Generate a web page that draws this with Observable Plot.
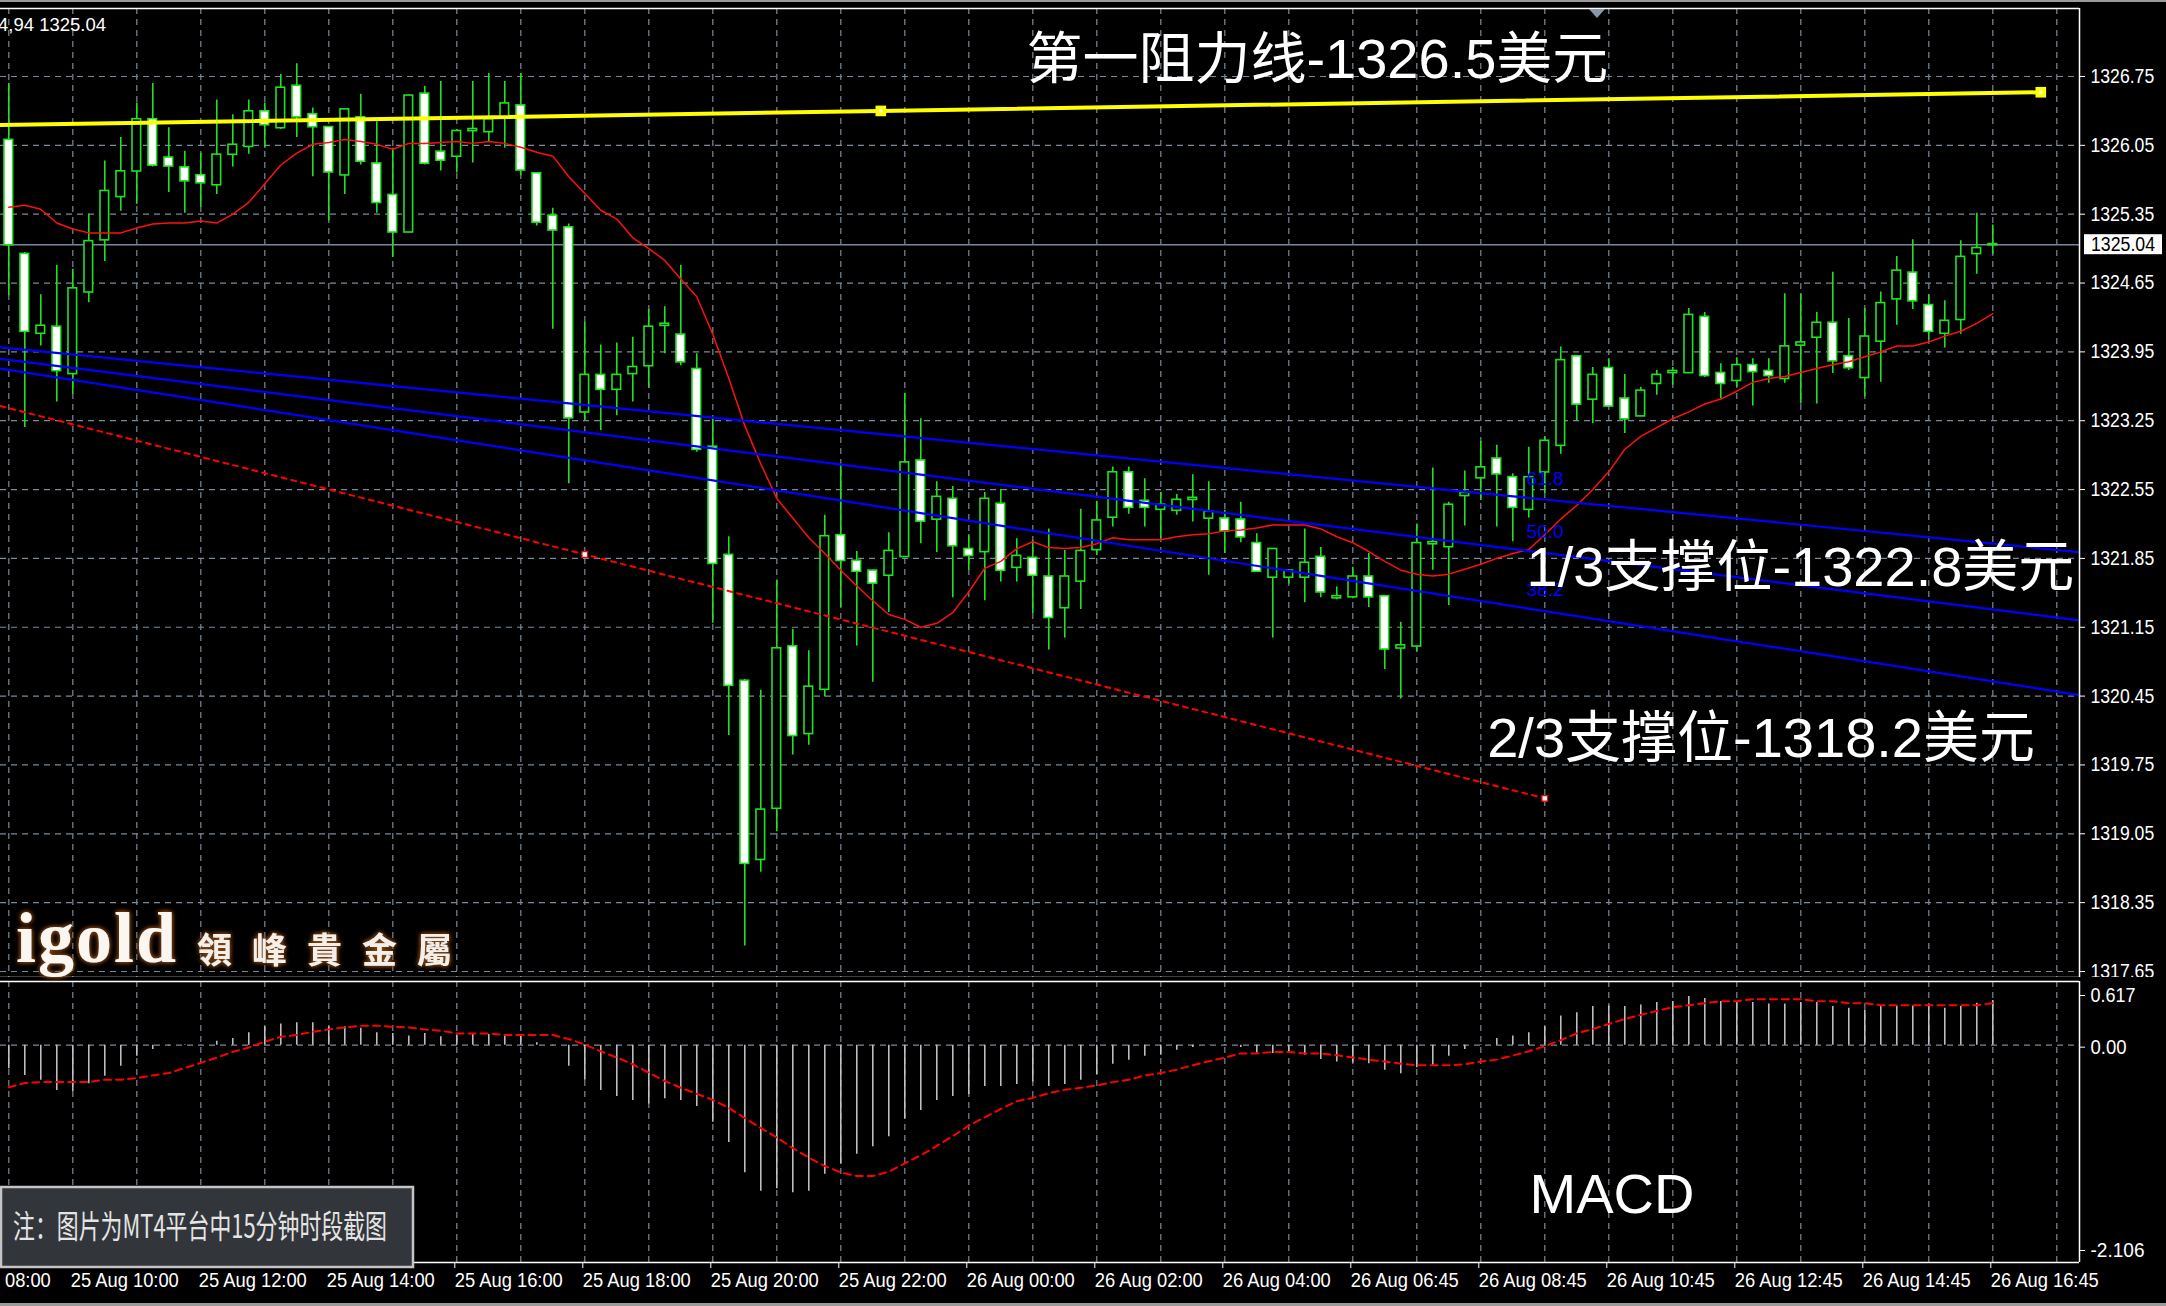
<!DOCTYPE html>
<html>
<head>
<meta charset="utf-8">
<script src="https://cdn.jsdelivr.net/npm/d3@7"></script>
<script src="https://cdn.jsdelivr.net/npm/@observablehq/plot@0.6"></script>
<style>
  html, body { margin:0; padding:0; background:#000; }
  #root { position:relative; width:2166px; height:1306px; overflow:hidden; background:#000; }
  #main, #macd { position:absolute; left:0; }
  #main { top:0; }
  #macd { top:977px; }
  #ov { position:absolute; left:0; top:0; pointer-events:none; }
</style>
</head>
<body>
<div id="root">
  <div id="main"></div>
  <div id="macd"></div>
  <svg id="ov" width="2166" height="1306" xmlns="http://www.w3.org/2000/svg">
    <defs>
      <filter id="glow" x="-20%" y="-30%" width="140%" height="160%">
        <feGaussianBlur in="SourceAlpha" stdDeviation="2.6" result="b"/>
        <feFlood flood-color="#8a4a18" flood-opacity="1"/>
        <feComposite in2="b" operator="in" result="s"/>
        <feMerge><feMergeNode in="s"/><feMergeNode in="s"/><feMergeNode in="SourceGraphic"/></feMerge>
      </filter>
    </defs>
    <rect x="0" y="0" width="2166" height="2" fill="#9a9a9a"/>
    <rect x="0" y="1303" width="2166" height="3" fill="#9a9a9a"/>
    <text x="-2" y="31" fill="#ffffff" font-size="19" textLength="108" lengthAdjust="spacingAndGlyphs" font-family="'Liberation Sans',sans-serif">4,94 1325.04</text>
    <polygon points="1589,9 1605,9 1597,18" fill="#8798a8"/>
    <g filter="url(#glow)">
      <text x="16" y="962" fill="#fbf7f0" font-size="72" font-weight="bold" font-family="'Liberation Serif','DejaVu Serif',serif" letter-spacing="2">igold</text>
      <text x="197" y="963" fill="#f4efe8" font-size="35" font-weight="bold" font-family="'Noto Sans CJK TC','Noto Sans CJK SC',sans-serif" letter-spacing="20">領峰貴金屬</text>
    </g>
    <rect x="1" y="1187" width="412" height="80" fill="#32353a" stroke="#c4c4c4" stroke-width="2.5"/>
    <text transform="translate(13,1238) scale(0.685,1)" fill="#e4e4e4" font-size="32" font-family="'Noto Sans CJK SC',sans-serif">注：图片为MT4平台中15分钟时段截图</text>
    <rect id="bidbox" x="2084" y="0" width="78" height="20" fill="#ffffff"/>
    <text id="bidtext" x="2091" y="0" fill="#000000" font-size="20" font-family="'Liberation Sans',sans-serif" lengthAdjust="spacingAndGlyphs"></text>
  </svg>
</div>
<script>
// ---------------- DATA ----------------
const opens = [1326.10,1324.94,1324.14,1324.20,1323.73,1324.56,1325.09,1325.53,1325.79,1326.31,
1325.92,1325.82,1325.74,1325.65,1325.96,1326.04,1326.39,1326.23,1326.65,1326.36,
1326.23,1325.75,1326.33,1325.86,1325.54,1325.17,1326.57,1325.98,1325.94,1326.20,
1326.19,1326.33,1326.45,1325.76,1325.33,1325.21,1323.34,1323.71,1323.57,1323.73,
1323.81,1324.22,1324.12,1323.77,1322.98,1321.88,1320.60,1318.79,1319.31,1320.95,
1320.07,1320.52,1322.08,1321.82,1321.72,1321.68,1321.87,1322.84,1322.25,1322.45,
1321.94,1321.92,1322.40,1321.76,1321.85,1321.66,1321.35,1321.62,1321.94,1322.27,
1322.72,1322.43,1322.35,1322.34,1322.45,1322.26,1322.25,1322.24,1322.00,1321.66,
1321.66,1321.66,1321.86,1321.45,1321.46,1321.66,1321.46,1320.94,1320.96,1322.00,
1321.97,1322.49,1322.67,1322.86,1322.67,1322.35,1322.73,1323.00,1323.90,1323.47,
1323.78,1323.47,1323.30,1323.63,1323.74,1323.74,1324.30,1323.73,1323.66,1323.81,
1323.75,1323.68,1324.02,1324.10,1324.24,1323.90,1323.69,1324.06,1324.49,1324.75,
1324.42,1324.14,1324.28,1324.95,1325.04];
const highs = [1326.68,1324.96,1324.53,1324.83,1324.79,1325.35,1325.89,1326.13,1326.48,1326.68,
1326.23,1325.99,1325.97,1326.51,1326.36,1326.51,1326.48,1326.77,1326.88,1326.43,
1326.24,1326.42,1326.57,1326.29,1326.02,1326.56,1326.65,1326.70,1326.21,1326.70,
1326.78,1326.70,1326.78,1325.77,1325.41,1325.25,1324.25,1324.02,1324.04,1324.10,
1324.38,1324.41,1324.83,1323.93,1323.26,1322.07,1320.62,1320.51,1321.63,1321.13,
1320.91,1322.29,1322.80,1321.92,1321.73,1322.11,1323.53,1323.27,1322.63,1322.58,
1322.09,1322.52,1322.55,1322.05,1322.03,1322.15,1321.93,1322.35,1322.43,1322.78,
1322.78,1322.66,1322.52,1322.50,1322.70,1322.63,1322.34,1322.42,1322.10,1321.95,
1321.73,1322.15,1321.96,1321.56,1321.76,1321.90,1321.47,1321.20,1322.20,1322.77,
1322.42,1322.74,1323.04,1323.00,1322.71,1322.98,1323.09,1324.00,1323.91,1323.79,
1323.88,1323.72,1323.59,1323.76,1323.79,1324.39,1324.35,1323.83,1323.89,1323.88,
1323.88,1324.54,1324.54,1324.35,1324.76,1324.29,1324.39,1324.56,1324.92,1325.09,
1324.53,1324.47,1325.08,1325.36,1325.24];
const lows = [1324.52,1323.18,1324.01,1323.44,1323.52,1324.45,1324.87,1325.38,1325.45,1325.83,
1325.57,1325.36,1325.42,1325.55,1325.83,1325.96,1326.02,1326.21,1326.13,1325.73,
1325.28,1325.55,1325.85,1325.36,1324.91,1325.16,1325.85,1325.79,1325.77,1325.87,
1326.09,1326.02,1325.74,1325.23,1324.18,1322.61,1323.25,1323.15,1323.30,1323.44,
1323.58,1323.93,1323.81,1322.93,1321.19,1320.05,1317.91,1318.66,1319.07,1319.85,
1319.95,1320.44,1321.35,1320.96,1320.59,1321.30,1321.86,1322.00,1321.91,1321.45,
1321.73,1321.42,1321.61,1321.61,1321.29,1320.92,1321.04,1321.33,1321.88,1322.17,
1322.30,1322.17,1322.05,1322.29,1322.22,1321.68,1321.90,1322.01,1321.71,1321.04,
1321.59,1321.40,1321.45,1321.43,1321.44,1321.35,1320.72,1320.42,1320.90,1321.73,
1321.37,1322.18,1322.44,1322.17,1322.02,1322.26,1322.51,1322.91,1323.25,1323.22,
1323.39,1323.12,1323.29,1323.51,1323.61,1323.73,1323.69,1323.47,1323.59,1323.40,
1323.63,1323.63,1323.42,1323.42,1323.73,1323.76,1323.49,1323.64,1324.22,1324.38,
1324.07,1323.99,1324.13,1324.74,1324.94];
const closes = [1325.04,1324.16,1324.21,1323.76,1324.59,1325.07,1325.58,1325.78,1326.31,1325.85,
1325.84,1325.69,1325.67,1325.95,1326.05,1326.39,1326.26,1326.63,1326.34,1326.24,
1325.78,1326.41,1325.89,1325.47,1325.17,1326.55,1325.87,1325.90,1326.19,1326.21,
1326.31,1326.47,1325.80,1325.27,1325.19,1323.28,1323.71,1323.57,1323.71,1323.79,
1324.20,1324.23,1323.85,1322.96,1321.80,1320.56,1318.75,1319.29,1320.93,1320.05,
1320.54,1322.07,1321.83,1321.72,1321.60,1321.92,1322.82,1322.23,1322.47,1321.98,
1321.88,1322.45,1321.73,1321.87,1321.68,1321.25,1321.66,1321.92,1322.23,1322.72,
1322.37,1322.37,1322.39,1322.44,1322.46,1322.32,1322.13,1322.07,1321.72,1321.94,
1321.72,1321.80,1321.51,1321.46,1321.66,1321.46,1320.93,1320.96,1322.00,1322.01,
1322.39,1322.51,1322.77,1322.71,1322.37,1322.67,1323.04,1323.86,1323.42,1323.71,
1323.40,1323.27,1323.55,1323.71,1323.75,1324.32,1323.71,1323.63,1323.81,1323.75,
1323.71,1324.00,1324.04,1324.24,1323.86,1323.79,1324.10,1324.44,1324.77,1324.47,
1324.16,1324.26,1324.91,1325.00,1325.04];
const maValues = [1325.42,1325.44,1325.40,1325.26,1325.20,1325.16,1325.16,1325.16,1325.21,1325.25,
1325.26,1325.26,1325.28,1325.26,1325.35,1325.47,1325.66,1325.85,1325.97,1326.06,
1326.08,1326.11,1326.09,1326.06,1326.01,1326.07,1326.07,1326.08,1326.09,1326.07,
1326.09,1326.07,1326.03,1325.98,1325.94,1325.73,1325.56,1325.39,1325.30,1325.11,
1325.00,1324.88,1324.69,1324.51,1324.13,1323.68,1323.20,1322.81,1322.46,1322.26,
1322.06,1321.90,1321.73,1321.57,1321.42,1321.28,1321.23,1321.15,1321.19,1321.30,
1321.51,1321.75,1321.82,1321.95,1322.02,1321.96,1321.95,1321.96,1322.00,1322.06,
1322.04,1322.04,1322.04,1322.07,1322.09,1322.10,1322.13,1322.14,1322.16,1322.19,
1322.19,1322.19,1322.15,1322.07,1322.01,1321.92,1321.82,1321.73,1321.69,1321.67,
1321.69,1321.74,1321.79,1321.85,1321.90,1321.94,1322.09,1322.25,1322.39,1322.55,
1322.73,1322.96,1323.09,1323.18,1323.27,1323.34,1323.42,1323.47,1323.55,1323.64,
1323.68,1323.70,1323.74,1323.78,1323.82,1323.85,1323.90,1323.95,1324.01,1324.01,
1324.05,1324.11,1324.16,1324.24,1324.34];
const macdHist = [-0.228,-0.293,-0.341,-0.439,-0.449,-0.374,-0.302,-0.205,-0.107,-0.042,
-0.005,0.003,-0.003,0.039,0.065,0.120,0.179,0.205,0.218,0.218,
0.179,0.179,0.163,0.120,0.114,0.088,0.114,0.081,0.098,0.114,
0.104,0.098,0.098,0.023,-0.005,-0.205,-0.341,-0.439,-0.498,-0.537,
-0.569,-0.520,-0.537,-0.595,-0.748,-0.943,-1.236,-1.415,-1.392,-1.431,
-1.415,-1.252,-1.154,-1.057,-0.985,-0.888,-0.715,-0.634,-0.537,-0.498,
-0.478,-0.400,-0.400,-0.380,-0.358,-0.400,-0.380,-0.341,-0.283,-0.185,
-0.146,-0.107,-0.098,-0.049,-0.023,-0.003,0.003,-0.023,-0.075,-0.081,
-0.081,-0.098,-0.140,-0.163,-0.172,-0.179,-0.244,-0.276,-0.218,-0.195,
-0.107,-0.042,0.003,0.065,0.088,0.120,0.179,0.283,0.315,0.374,
0.380,0.374,0.390,0.413,0.423,0.472,0.452,0.423,0.423,0.413,
0.400,0.400,0.413,0.413,0.374,0.358,0.341,0.380,0.380,0.380,
0.390,0.358,0.374,0.407,0.433];
const macdSignal = [-0.407,-0.367,-0.358,-0.358,-0.358,-0.358,-0.335,-0.335,-0.319,-0.293,
-0.270,-0.221,-0.172,-0.120,-0.065,-0.023,0.033,0.081,0.098,0.130,
0.153,0.172,0.189,0.189,0.179,0.172,0.153,0.140,0.114,0.114,
0.114,0.098,0.098,0.098,0.098,0.059,0.007,-0.059,-0.120,-0.185,
-0.267,-0.348,-0.413,-0.472,-0.530,-0.608,-0.706,-0.803,-0.894,-0.998,
-1.089,-1.171,-1.233,-1.268,-1.268,-1.226,-1.145,-1.067,-0.976,-0.881,
-0.780,-0.699,-0.618,-0.543,-0.511,-0.465,-0.433,-0.413,-0.390,-0.358,
-0.335,-0.293,-0.270,-0.237,-0.195,-0.156,-0.120,-0.081,-0.081,-0.065,
-0.065,-0.081,-0.081,-0.098,-0.120,-0.140,-0.159,-0.179,-0.195,-0.195,
-0.195,-0.185,-0.159,-0.140,-0.101,-0.059,-0.010,0.049,0.114,0.156,
0.205,0.254,0.293,0.332,0.367,0.387,0.407,0.426,0.426,0.446,
0.446,0.446,0.446,0.426,0.426,0.407,0.407,0.387,0.387,0.387,
0.387,0.387,0.387,0.387,0.407];
const priceTicks = [1326.75,1326.05,1325.35,1324.65,1323.95,1323.25,1322.55,1321.85,1321.15,1320.45,1319.75,1319.05,1318.35,1317.65];
const timeTickBars = [-4,4,12,20,28,36,44,52,60,68,76,84,92,100,108,116,124];
const timeTickLabels = ["25 Aug 08:00","25 Aug 10:00","25 Aug 12:00","25 Aug 14:00","25 Aug 16:00","25 Aug 18:00","25 Aug 20:00","25 Aug 22:00","26 Aug 00:00","26 Aug 02:00","26 Aug 04:00","26 Aug 06:45","26 Aug 08:45","26 Aug 10:45","26 Aug 12:45","26 Aug 14:45","26 Aug 16:45"];
const macdTickValues = [0.617, 0, -2.106];
const macdTickLabels = ["0.617", "0.00", "-2.106"];
const fibLevels = ["61.8", "50.0", "38.2"];
const fibPriceAtBar0 = [1323.987, 1323.869, 1323.767];
const fibPriceAtBar124 = [1322.000, 1321.331, 1320.599];
const resistanceBars = [54.5, 127];
const resistancePrices = [1326.40, 1326.59];
const supportBars = [36, 96];
const supportPrices = [1321.89, 1319.41];
const bidPrice = 1325.04;
const annotationTexts = ["第一阻力线-1326.5美元", "1/3支撑位-1322.8美元", "2/3支撑位-1318.2美元"];
const panelTitle = "MACD";

// ---------------- BUILD ----------------
const lime = "#22e022";
const gridColor = "#7a8a9a";
const axisFont = "'Liberation Sans',sans-serif";
const bigFont = "'Liberation Sans','Noto Sans CJK SC',sans-serif";
const xDomain = [-0.51875, 129.41875];
const yDomain = [1317.5888, 1327.4414];
const interp = (b0, p0, b1, p1, b) => p0 + (p1 - p0) * (b - b0) / (b1 - b0);

const candles = opens.map((o, i) => ({i, o, h: highs[i], l: lows[i], c: closes[i], up: closes[i] >= o}));
const maRows = maValues.map((v, i) => ({i, v}));
const macdRows = macdHist.map((h, i) => ({i, h, s: macdSignal[i]}));
const gridBars = d3.range(0, 130, 4);

const fibRows = [];
fibLevels.forEach((name, k) => {
  [xDomain[0], xDomain[1]].forEach(b => fibRows.push({name, b, p: interp(0, fibPriceAtBar0[k], 124, fibPriceAtBar124[k], b)}));
});
const fibLabelRows = fibLevels.map((name, k) => ({name, b: 94.86, p: interp(0, fibPriceAtBar0[k], 124, fibPriceAtBar124[k], 94.86) + 0.19}));
const resRows = [xDomain[0], ...resistanceBars].map(b => ({b, p: interp(resistanceBars[0], resistancePrices[0], resistanceBars[1], resistancePrices[1], b)}));
const supRows = [xDomain[0], ...supportBars].map(b => ({b, p: interp(supportBars[0], supportPrices[0], supportBars[1], supportPrices[1], b)}));
const resMarks = resistanceBars.map((b, k) => ({b, p: resistancePrices[k]}));
const supMarks = supportBars.map((b, k) => ({b, p: supportPrices[k]}));

const annRows = [
  {t: annotationTexts[0], b: 63.6, p: 1326.92},
  {t: annotationTexts[1], b: 94.86, p: 1321.75},
  {t: annotationTexts[2], b: 92.4, p: 1320.01}
];

const dash = "6,5";

const main = Plot.plot({
  width: 2166, height: 979,
  marginLeft: 0, marginRight: 87, marginTop: 8, marginBottom: 2,
  style: {background: "#000", color: "#fff", fontFamily: axisFont, overflow: "hidden"},
  x: {type: "linear", domain: xDomain, axis: null},
  y: {type: "linear", domain: yDomain, axis: null},
  color: {type: "identity"},
  marks: [
    Plot.ruleY(priceTicks, {stroke: gridColor, strokeWidth: 1.2, strokeDasharray: dash}),
    Plot.ruleX(gridBars, {stroke: gridColor, strokeWidth: 1.2, strokeDasharray: dash}),
    Plot.ruleY([bidPrice], {stroke: "#778899", strokeWidth: 1.6}),
    Plot.ruleX(candles, {x: "i", y1: "l", y2: "h", stroke: lime, strokeWidth: 1.6}),
    Plot.rect(candles, {x1: d => d.i - 0.27, x2: d => d.i + 0.27, y1: "o", y2: "c",
      fill: d => d.up ? "#000000" : "#ffffff", stroke: lime, strokeWidth: 1.6, insetTop: -0.6, insetBottom: -0.6}),
    Plot.line(maRows, {x: "i", y: "v", stroke: "#ff1010", strokeWidth: 1.5}),
    Plot.line(fibRows, {x: "b", y: "p", z: "name", stroke: "#0000ff", strokeWidth: 2.2}),
    Plot.text(fibLabelRows, {x: "b", y: "p", text: "name", fill: "#0000ff", fontSize: 19, textAnchor: "start", fontFamily: axisFont}),
    Plot.line(supRows, {x: "b", y: "p", stroke: "#ff0000", strokeWidth: 2, strokeDasharray: "5,5"}),
    Plot.dot(supMarks, {x: "b", y: "p", symbol: "square", r: 3.2, fill: "#ffffff", stroke: "#ff0000", strokeWidth: 1.2}),
    Plot.line(resRows, {x: "b", y: "p", stroke: "#ffff00", strokeWidth: 4}),
    Plot.dot(resMarks, {x: "b", y: "p", symbol: "square", r: 6, fill: "#ffff00"}),
    Plot.dot(resMarks, {x: "b", y: "p", symbol: "square", r: 1.8, fill: "#ffffff"}),
    Plot.text(annRows, {x: "b", y: "p", text: "t", fill: "#ffffff", fontSize: 56, fontFamily: bigFont, textAnchor: "start", lineAnchor: "middle"}),
    Plot.ruleY([yDomain[1]], {stroke: "#ffffff", strokeWidth: 1.5}),
    Plot.ruleY([yDomain[0]], {stroke: "#ffffff", strokeWidth: 1.5}),
    Plot.ruleX([xDomain[1]], {stroke: "#ffffff", strokeWidth: 1.5}),
    Plot.axisY(priceTicks, {anchor: "right", label: null, tickSize: 5, tickPadding: 6, tickFormat: d => d.toFixed(2), fontSize: 20, fill: "#ffffff", stroke: "#ffffff"})
  ]
});
document.getElementById("main").appendChild(main);

const labelMap = new Map(timeTickBars.map((b, k) => [b, timeTickLabels[k]]));
const macdLabelMap = new Map(macdTickValues.map((v, k) => [v, macdTickLabels[k]]));

const macd = Plot.plot({
  width: 2166, height: 329,
  marginLeft: 0, marginRight: 87, marginTop: 4, marginBottom: 44,
  style: {background: "#000", color: "#fff", fontFamily: axisFont, overflow: "hidden"},
  x: {type: "linear", domain: xDomain, axis: null},
  y: {type: "linear", domain: [macdTickValues[2], macdTickValues[0]], axis: null},
  marks: [
    Plot.ruleX(gridBars, {stroke: gridColor, strokeWidth: 1.2, strokeDasharray: dash}),
    Plot.ruleY([0], {stroke: gridColor, strokeWidth: 1.2, strokeDasharray: dash}),
    Plot.ruleX(macdRows, {x: "i", y1: 0, y2: "h", stroke: "#c8c8c8", strokeWidth: 1.5}),
    Plot.line(macdRows, {x: "i", y: "s", stroke: "#ff0000", strokeWidth: 2, strokeDasharray: "7,5"}),
    Plot.text([panelTitle], {x: 95.05, y: -1.457, text: d => d, fill: "#ffffff", fontSize: 56, fontFamily: bigFont, textAnchor: "start", lineAnchor: "middle"}),
    Plot.ruleY([macdTickValues[0]], {stroke: "#ffffff", strokeWidth: 1.5}),
    Plot.ruleY([macdTickValues[2]], {stroke: "#ffffff", strokeWidth: 1.5}),
    Plot.ruleX([xDomain[1]], {stroke: "#ffffff", strokeWidth: 1.5}),
    Plot.axisY([macdTickValues[0]], {anchor: "right", label: null, tickSize: 5, tickPadding: 6, dy: 14, tickFormat: d => macdLabelMap.get(d), fontSize: 20, fill: "#fff", stroke: "#fff"}),
    Plot.axisY([macdTickValues[1]], {anchor: "right", label: null, tickSize: 5, tickPadding: 6, dy: 2, tickFormat: d => macdLabelMap.get(d), fontSize: 20, fill: "#fff", stroke: "#fff"}),
    Plot.axisY([macdTickValues[2]], {anchor: "right", label: null, tickSize: 5, tickPadding: 6, dy: -12, tickFormat: d => macdLabelMap.get(d), fontSize: 20, fill: "#fff", stroke: "#fff"}),
    Plot.axisX(timeTickBars, {anchor: "bottom", label: null, tickSize: 6, tickPadding: 4, textAnchor: "start", dx: -2, tickFormat: d => labelMap.get(d), fontSize: 20, fill: "#fff", stroke: "#fff"})
  ]
});
document.getElementById("macd").appendChild(macd);

// MT4 uses a narrow font: compress the axis labels to its character pitch
function squeeze(svg, perChar) {
  svg.querySelectorAll('g[aria-label$="tick label"] text').forEach(t => {
    const n = t.textContent.length;
    t.setAttribute("textLength", (n * perChar).toFixed(1));
    t.setAttribute("lengthAdjust", "spacingAndGlyphs");
  });
}
squeeze(main, 9.1);
squeeze(macd, 9.0);

const yBid = main.scale("y").apply(bidPrice);
document.getElementById("bidbox").setAttribute("y", (yBid - 10).toFixed(1));
const bt = document.getElementById("bidtext");
bt.textContent = bidPrice.toFixed(2);
bt.setAttribute("y", (yBid + 7).toFixed(1));
bt.setAttribute("textLength", "64");
</script>
</body>
</html>
